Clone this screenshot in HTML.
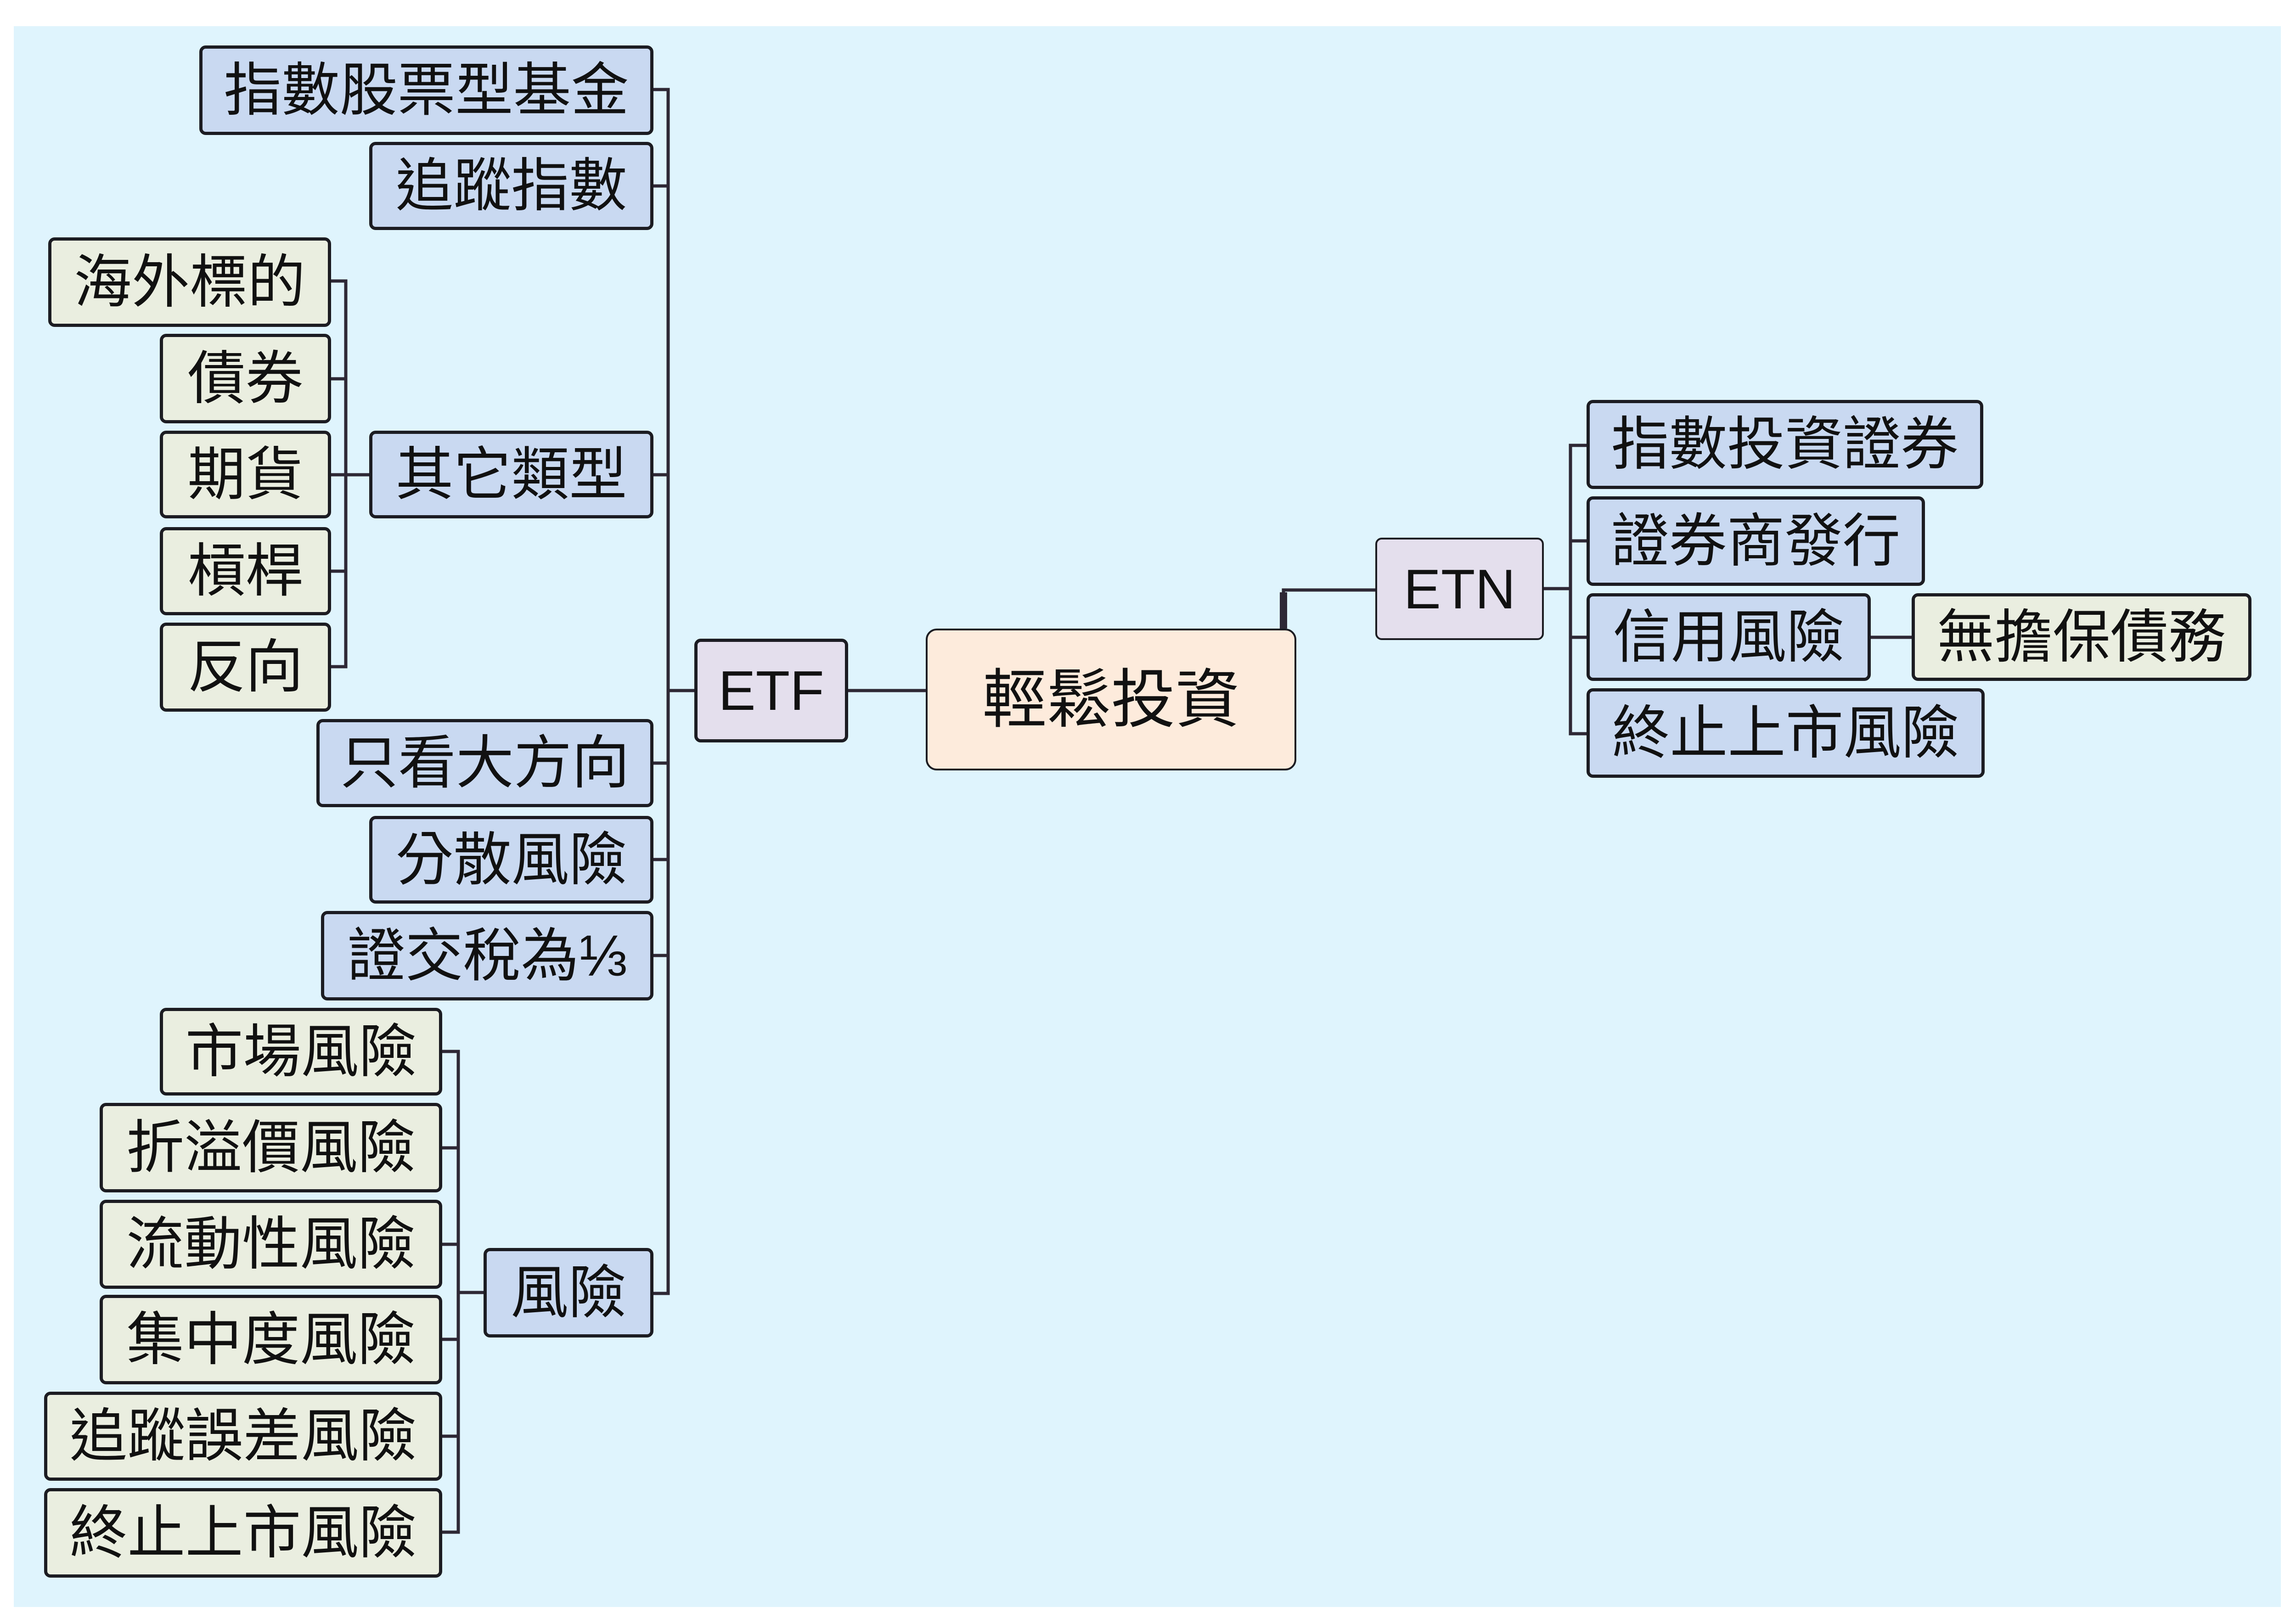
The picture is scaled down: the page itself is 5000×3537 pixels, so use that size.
<!DOCTYPE html>
<html><head><meta charset="utf-8"><style>
html,body{margin:0;padding:0}
body{width:5000px;height:3537px;background:#fff;position:relative;overflow:hidden;font-family:"Liberation Sans","Noto Sans CJK TC",sans-serif}
.bg{position:absolute;left:30px;top:57px;width:4937px;height:3443px;background:#dff4fd}
.n{position:absolute;box-sizing:border-box;border:7px solid #1c1c22;border-radius:14px;display:flex;align-items:center;justify-content:center;font-size:126px;color:#111;line-height:1;white-space:nowrap}
.b{background:#c9d9f1}
.g{background:#eaeee0}
svg{position:absolute;left:0;top:0}
</style></head><body>
<div class="bg"></div>
<svg width="5000" height="3537" fill="none" stroke="#2e2835" stroke-width="7">
<path d="M1423 195H1455V2817H1423 M1423 405H1455 M1423 1034H1455 M1423 1662H1455 M1423 1872H1455 M1423 2081H1455 M1455 1504H1512"/>
<path d="M721 612H753V1452H721 M721 825H753 M721 1034H753 M721 1244H753 M753 1034H804"/>
<path d="M963 2290H998V3337H963 M963 2500H998 M963 2710H998 M963 2917H998 M963 3128H998 M998 2815H1053"/>
<path d="M1847 1504H2016"/>
<path d="M2795 1369V1285H2995" />
<path d="M3362 1282H3420 M3455 970H3420V1598H3455 M3420 1178H3455 M3420 1388H3455 M4074 1388H4163"/>
<path d="M2795 1369V1290" stroke-width="16"/>
</svg>
<div class="n b" style="left:434px;top:99px;width:989px;height:195px">指數股票型基金</div>
<div class="n b" style="left:804px;top:309px;width:619px;height:192px">追蹤指數</div>
<div class="n b" style="left:804px;top:938px;width:619px;height:191px">其它類型</div>
<div class="n b" style="left:689px;top:1566px;width:734px;height:192px">只看大方向</div>
<div class="n b" style="left:804px;top:1777px;width:619px;height:191px">分散風險</div>
<div class="n b" style="left:699px;top:1984px;width:724px;height:195px">證交稅為⅓</div>
<div class="n b" style="left:1053px;top:2718px;width:370px;height:195px">風險</div>
<div class="n" style="left:1512px;top:1391px;width:335px;height:226px;background:#e4dfed;font-size:122px">ETF</div>
<div class="n g" style="left:105px;top:517px;width:616px;height:195px">海外標的</div>
<div class="n g" style="left:348px;top:727px;width:373px;height:195px">債券</div>
<div class="n g" style="left:348px;top:938px;width:373px;height:191px">期貨</div>
<div class="n g" style="left:348px;top:1148px;width:373px;height:192px">槓桿</div>
<div class="n g" style="left:348px;top:1356px;width:373px;height:194px">反向</div>
<div class="n g" style="left:348px;top:2195px;width:615px;height:191px">市場風險</div>
<div class="n g" style="left:217px;top:2402px;width:746px;height:195px">折溢價風險</div>
<div class="n g" style="left:217px;top:2613px;width:746px;height:194px">流動性風險</div>
<div class="n g" style="left:217px;top:2820px;width:746px;height:195px">集中度風險</div>
<div class="n g" style="left:96px;top:3031px;width:867px;height:194px">追蹤誤差風險</div>
<div class="n g" style="left:96px;top:3241px;width:867px;height:195px">終止上市風險</div>
<div class="n" style="left:2016px;top:1369px;width:807px;height:309px;background:#fdebdc;font-size:140px;border-width:4px;border-radius:24px">輕鬆投資</div>
<div class="n" style="left:2995px;top:1171px;width:367px;height:223px;background:#e4dfed;font-size:122px;border-width:4px">ETN</div>
<div class="n b" style="left:3455px;top:871px;width:864px;height:194px">指數投資證券</div>
<div class="n b" style="left:3455px;top:1081px;width:737px;height:195px">證券商發行</div>
<div class="n b" style="left:3455px;top:1292px;width:619px;height:191px">信用風險</div>
<div class="n b" style="left:3455px;top:1499px;width:867px;height:195px">終止上市風險</div>
<div class="n g" style="left:4163px;top:1292px;width:740px;height:191px">無擔保債務</div>
</body></html>
